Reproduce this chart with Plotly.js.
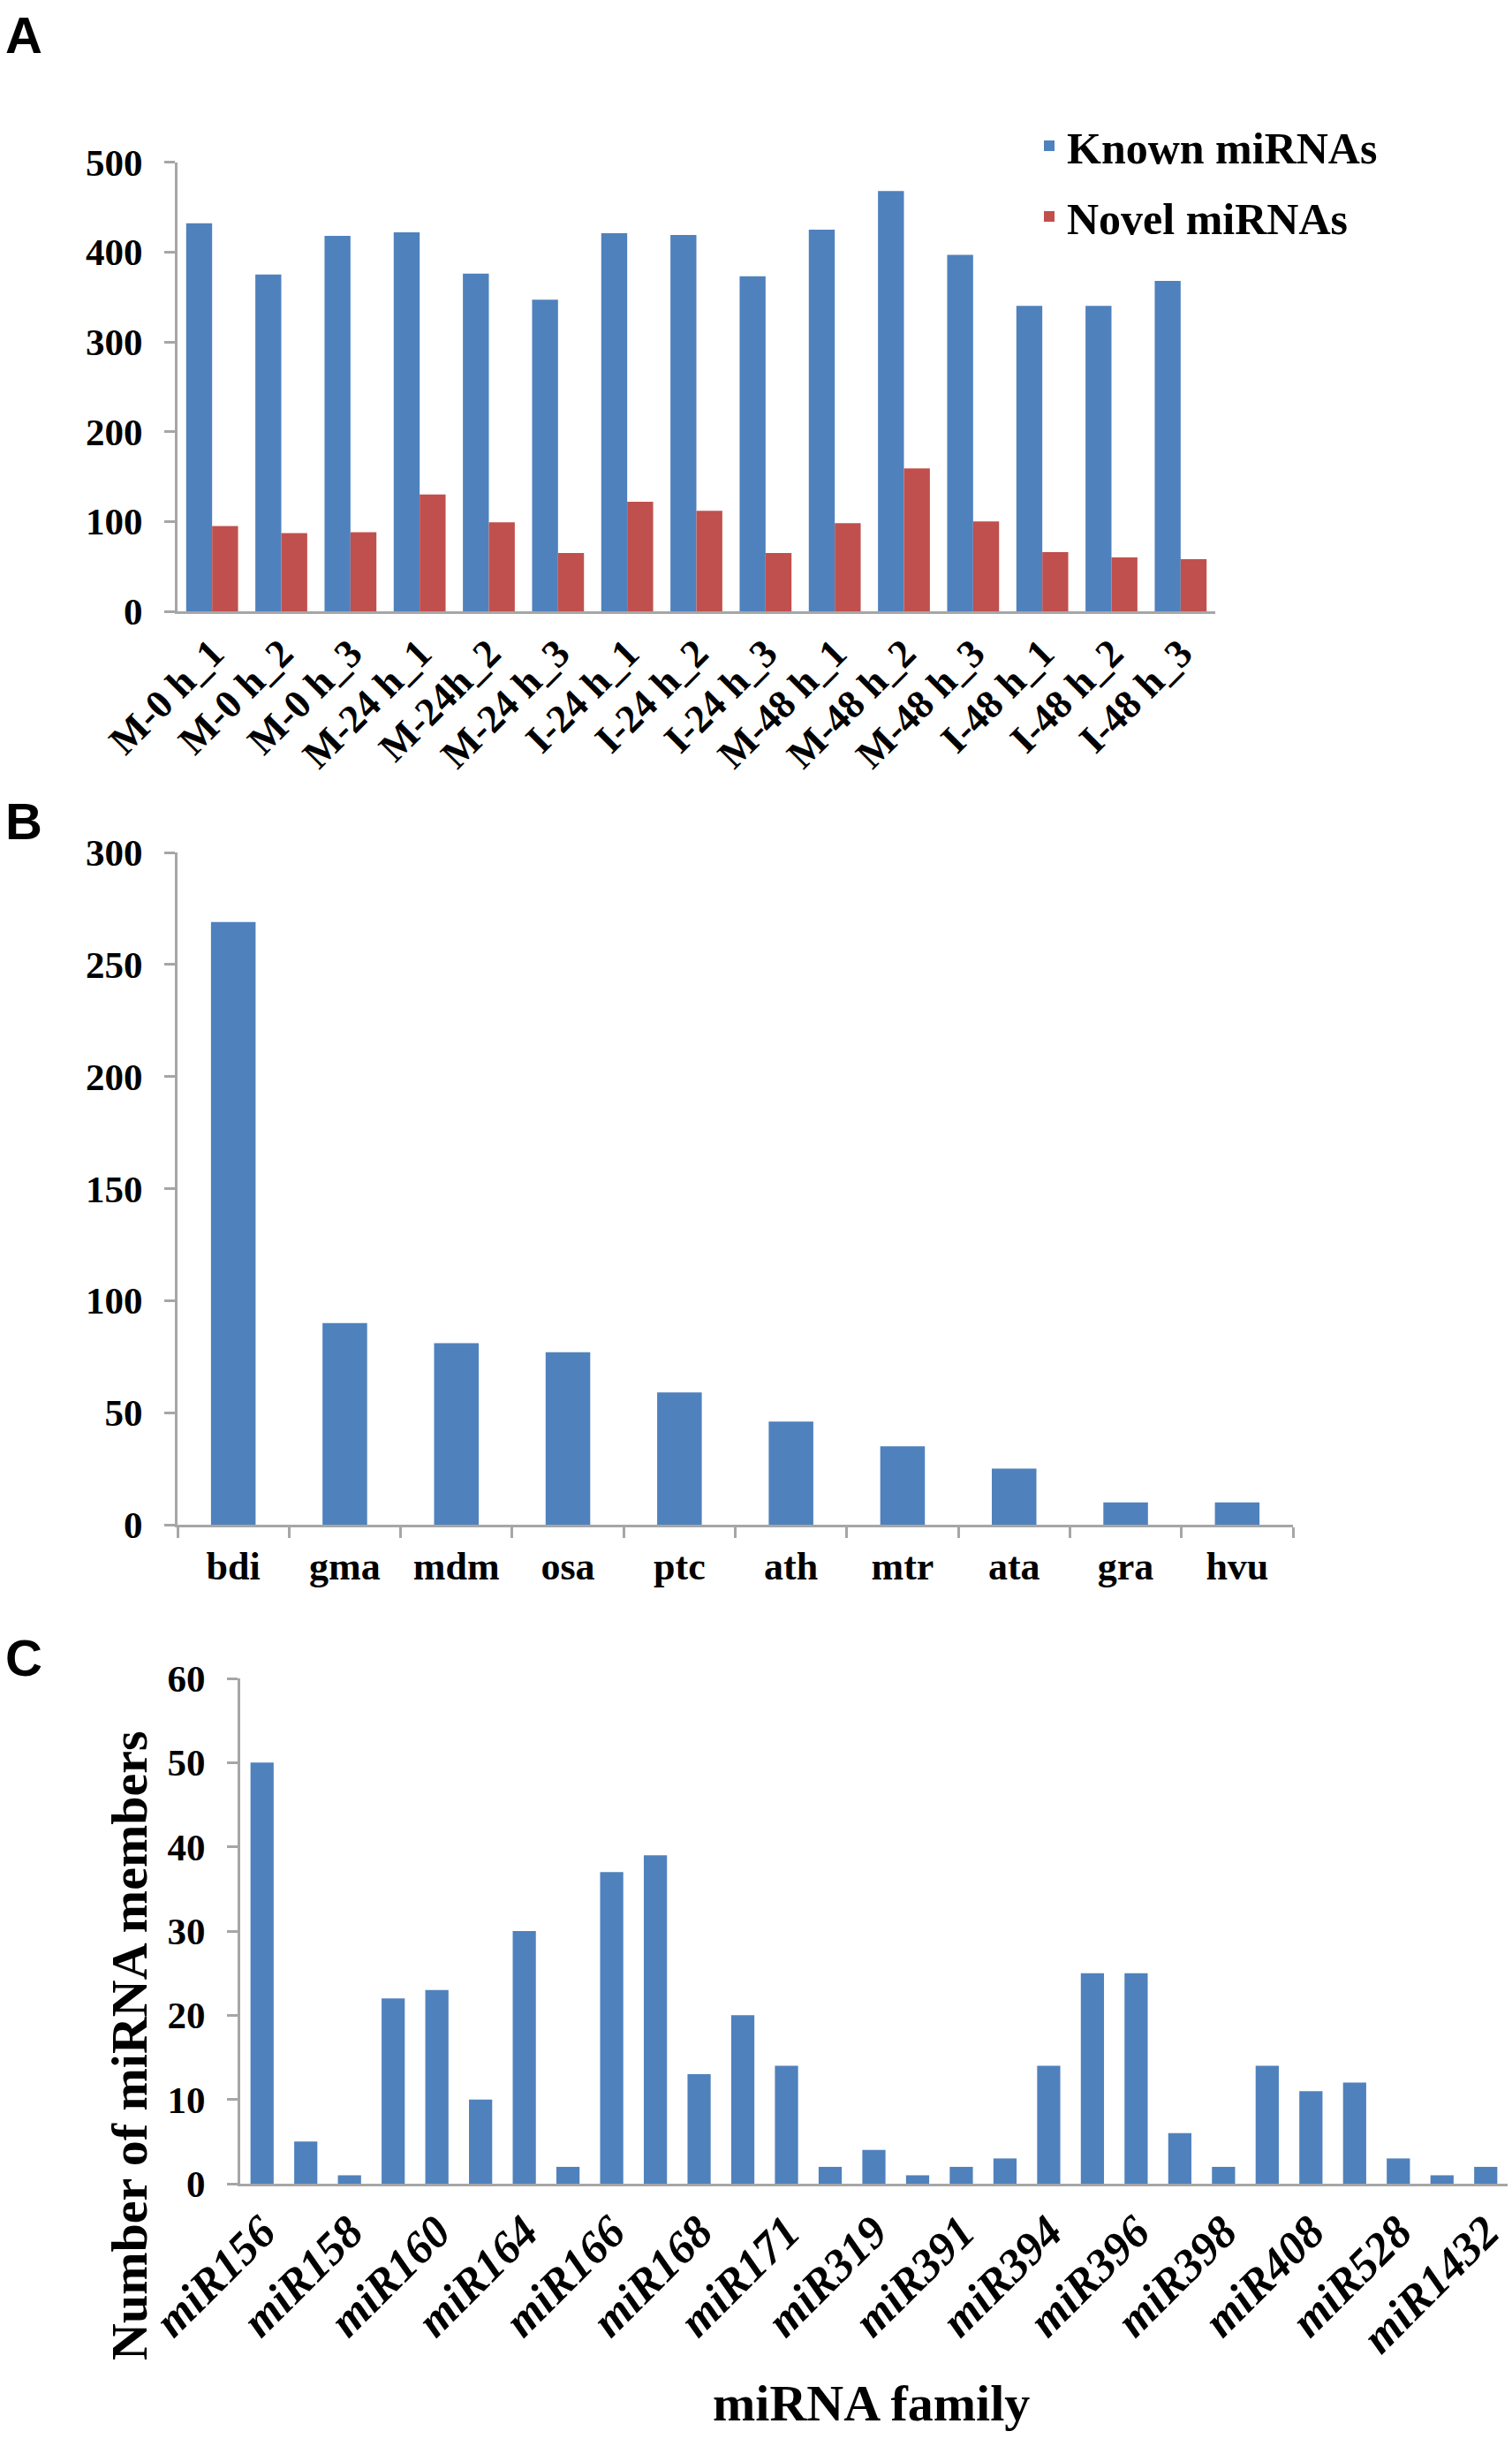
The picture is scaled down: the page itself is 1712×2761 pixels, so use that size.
<!DOCTYPE html>
<html>
<head>
<meta charset="utf-8">
<script src="https://cdn.plot.ly/plotly-3.0.1.min.js"></script>
<style>
  html, body { margin: 0; padding: 0; background: #ffffff; }
  #chart { width: 1712px; height: 2761px; }
</style>
</head>
<body>
<div id="chart"></div>
<script>
// ---------- Panel A data ----------
const samplesA = ["M-0 h_1", "M-0 h_2", "M-0 h_3", "M-24 h_1", "M-24h_2", "M-24 h_3",
                  "I-24 h_1", "I-24 h_2", "I-24 h_3", "M-48 h_1", "M-48 h_2", "M-48 h_3",
                  "I-48 h_1", "I-48 h_2", "I-48 h_3"];
const knownMiRNAs = [432, 375, 418, 422, 376, 347, 421, 419, 373, 425, 468, 397, 340, 340, 368];
const novelMiRNAs = [95, 87, 88, 130, 99, 65, 122, 112, 65, 98, 159, 100, 66, 60, 58];

// ---------- Panel B data ----------
const speciesB = ["bdi", "gma", "mdm", "osa", "ptc", "ath", "mtr", "ata", "gra", "hvu"];
const speciesCounts = [269, 90, 81, 77, 59, 46, 35, 25, 10, 10];

// ---------- Panel C data ----------
const familiesC = ["miR156", "miR157", "miR158", "miR159", "miR160", "miR162", "miR164", "miR165",
                   "miR166", "miR167", "miR168", "miR169", "miR171", "miR172", "miR319", "miR390",
                   "miR391", "miR393", "miR394", "miR395", "miR396", "miR397", "miR398", "miR399",
                   "miR408", "miR444", "miR528", "miR529", "miR1432"];
const familyMembers = [50, 5, 1, 22, 23, 10, 30, 2, 37, 39, 13, 20, 14, 2, 4, 1, 2, 3, 14, 25,
                       25, 6, 2, 14, 11, 12, 3, 1, 2];
const labelledFamiliesC = familiesC.filter((f, i) => i % 2 === 0);

// ---------- styling ----------
const W = 1712, H = 2761;
const px = v => v / W;
const py = v => 1 - v / H;
const BLUE = "#4f81bd", RED = "#c0504d", AXIS = "#a6a6a6";
const SERIF = "Liberation Serif, Times New Roman, serif";
const SANS = "Liberation Sans, Arial, sans-serif";
const tickFont = { family: SERIF, size: 43, color: "#000", weight: "bold" };

const traces = [
  { type: "bar", x: samplesA, y: knownMiRNAs, name: "Known miRNAs", legendgroup: "k",
    marker: { color: BLUE }, xaxis: "x", yaxis: "y" },
  { type: "bar", x: samplesA, y: novelMiRNAs, name: "Novel miRNAs", legendgroup: "n",
    marker: { color: RED }, xaxis: "x", yaxis: "y" },
  { type: "bar", x: speciesB, y: speciesCounts, showlegend: false, width: 0.40,
    marker: { color: BLUE }, xaxis: "x2", yaxis: "y2" },
  { type: "bar", x: familiesC, y: familyMembers, showlegend: false, width: 0.53,
    marker: { color: BLUE }, xaxis: "x3", yaxis: "y3" }
];

function yAxis(domain, range, dtick, anchor) {
  return {
    domain: domain, range: range, dtick: dtick, tick0: 0, anchor: anchor,
    showgrid: false, zeroline: false, showline: true, linecolor: AXIS, linewidth: 3,
    ticks: "outside", ticklen: 12, tickwidth: 3, tickcolor: AXIS,
    tickfont: tickFont, ticklabelstandoff: 16, fixedrange: true
  };
}

const layout = {
  width: W, height: H,
  margin: { l: 0, r: 0, t: 0, b: 0 },
  paper_bgcolor: "#ffffff", plot_bgcolor: "rgba(0,0,0,0)",
  barmode: "group", bargap: 0.25, bargroupgap: 0,
  showlegend: true,
  legend: {
    x: px(1168), y: py(126), xanchor: "left", yanchor: "top",
    font: { family: SERIF, size: 50, color: "#000", weight: "bold" },
    traceorder: "grouped", tracegroupgap: 12, itemwidth: 30,
    bgcolor: "rgba(0,0,0,0)"
  },
  // Panel A
  xaxis: {
    domain: [px(201), px(1376)], anchor: "y", type: "category",
    showline: true, linecolor: AXIS, linewidth: 3, ticks: "", showgrid: false,
    tickangle: -45, tickfont: { family: SERIF, size: 45, color: "#000", weight: "bold" },
    fixedrange: true
  },
  yaxis: yAxis([py(692), py(183.7)], [0, 500], 100, "x"),
  // Panel B
  xaxis2: {
    domain: [px(201), px(1464)], anchor: "y2", type: "category",
    showline: true, linecolor: AXIS, linewidth: 3, showgrid: false,
    ticks: "outside", tickson: "boundaries", ticklen: 12, tickwidth: 3, tickcolor: AXIS,
    tickangle: 0, tickfont: { family: SERIF, size: 44, color: "#000", weight: "bold" },
    ticklabelstandoff: 6, fixedrange: true
  },
  yaxis2: yAxis([py(1726), py(965)], [0, 300], 50, "x2"),
  // Panel C
  xaxis3: {
    domain: [px(272), px(1707)], anchor: "y3", type: "category",
    showline: true, linecolor: AXIS, linewidth: 3, showgrid: false, ticks: "",
    tickmode: "array", tickvals: labelledFamiliesC, ticktext: labelledFamiliesC,
    tickangle: -45,
    tickfont: { family: SERIF, size: 52, color: "#000", weight: "bold", style: "italic" },
    fixedrange: true
  },
  yaxis3: yAxis([py(2472), py(1900)], [0, 60], 10, "x3"),
  annotations: [
    { text: "A", x: px(4), y: py(40), xref: "paper", yref: "paper", xanchor: "left", yanchor: "middle",
      showarrow: false, font: { family: SANS, size: 58, color: "#000", weight: "bold" } },
    { text: "B", x: px(4), y: py(930), xref: "paper", yref: "paper", xanchor: "left", yanchor: "middle",
      showarrow: false, font: { family: SANS, size: 58, color: "#000", weight: "bold" } },
    { text: "C", x: px(4), y: py(1877), xref: "paper", yref: "paper", xanchor: "left", yanchor: "middle",
      showarrow: false, font: { family: SANS, size: 58, color: "#000", weight: "bold" } },
    { text: "Number of miRNA members", x: px(146), y: py(2316), xref: "paper", yref: "paper",
      xanchor: "center", yanchor: "middle", textangle: -90, showarrow: false,
      font: { family: SERIF, size: 58, color: "#000", weight: "bold" } },
    { text: "miRNA family", x: px(987), y: py(2720), xref: "paper", yref: "paper",
      xanchor: "center", yanchor: "middle", showarrow: false,
      font: { family: SERIF, size: 58, color: "#000", weight: "bold" } }
  ]
};

Plotly.newPlot("chart", traces, layout, { displayModeBar: false, staticPlot: true });
</script>
</body>
</html>
